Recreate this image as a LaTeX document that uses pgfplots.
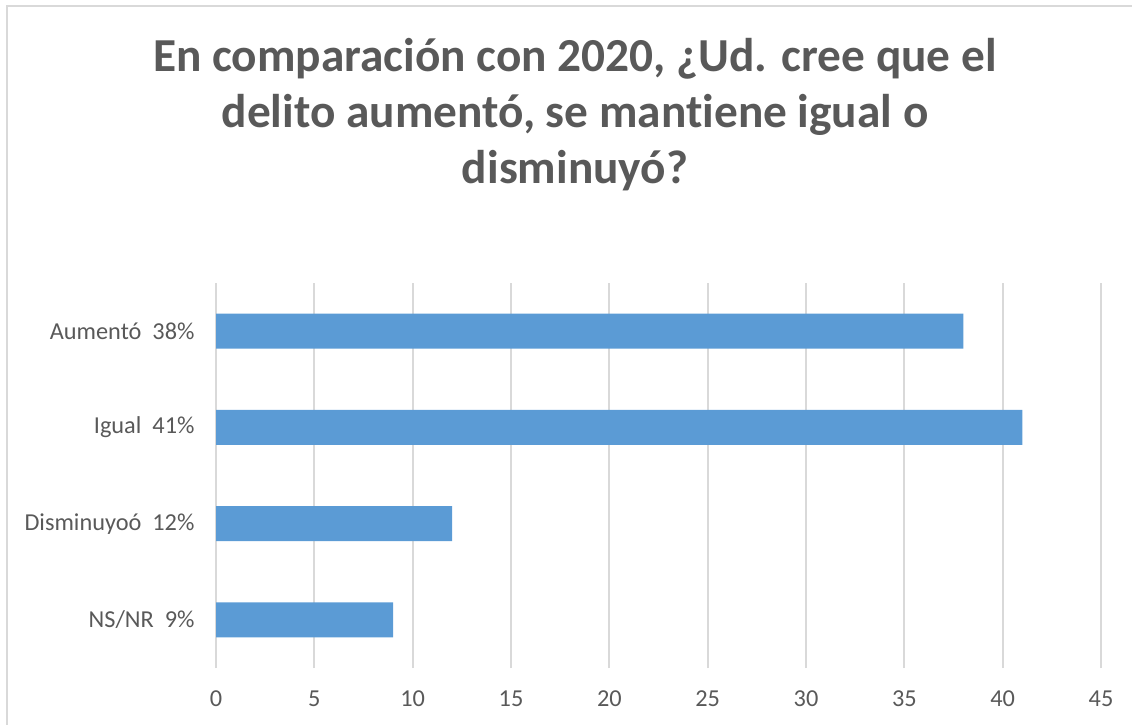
\documentclass[border=0pt]{standalone}
\usepackage{pgfplots}
\pgfplotsset{compat=1.18}
\usepackage{fontspec}
\setmainfont{Carlito}[Ligatures={NoCommon}]
\definecolor{txtgray}{HTML}{595959}
\definecolor{gridgray}{HTML}{D9D9D9}
\definecolor{barblue}{HTML}{5B9BD5}
\definecolor{bordergray}{HTML}{D9D9D9}
\begin{document}
\begin{tikzpicture}
\useasboundingbox (0bp,0bp) rectangle (1132bp,725bp);
\draw[bordergray, line width=2.5bp] (7bp,-10bp) -- (7bp,719bp) -- (1145bp,719bp);
\node[anchor=base, text=txtgray, font=\fontsize{47.5}{56}\bfseries\selectfont] at (575bp,653bp) {En comparación con 2020, ¿Ud. cree que el};
\node[anchor=base, text=txtgray, font=\fontsize{47.5}{56}\bfseries\selectfont] at (575bp,597bp) {delito aumentó, se mantiene igual o};
\node[anchor=base, text=txtgray, font=\fontsize{47.5}{56}\bfseries\selectfont] at (575bp,541bp) {disminuyó?};
\begin{axis}[
  at={(216bp,57bp)}, anchor=south west,
  width=885bp, height=385bp, scale only axis,
  xmin=0, xmax=45, ymin=-0.5, ymax=3.5,
  xbar, bar width=35bp,
  xtick={0,5,...,45},
  ytick={0,1,2,3},
  yticklabels={NS/NR\ \ 9\%, Disminuyoó\ \ 12\%, Igual\ \ 41\%, Aumentó\ \ 38\%},
  xmajorgrids, major grid style={gridgray, line width=1.7bp},
  axis line style={draw=none},
  major tick length=0pt,
  tick style={draw=none},
  /pgf/number format/assume math mode=true,
  ticklabel style={text=txtgray, font=\fontsize{24.4}{28}\selectfont},
  xticklabel style={yshift=-19bp},
  yticklabel style={xshift=-18bp},
]
\addplot[draw=none, fill=barblue] coordinates {(9,0) (12,1) (41,2) (38,3)};
\end{axis}
\end{tikzpicture}
\end{document}
